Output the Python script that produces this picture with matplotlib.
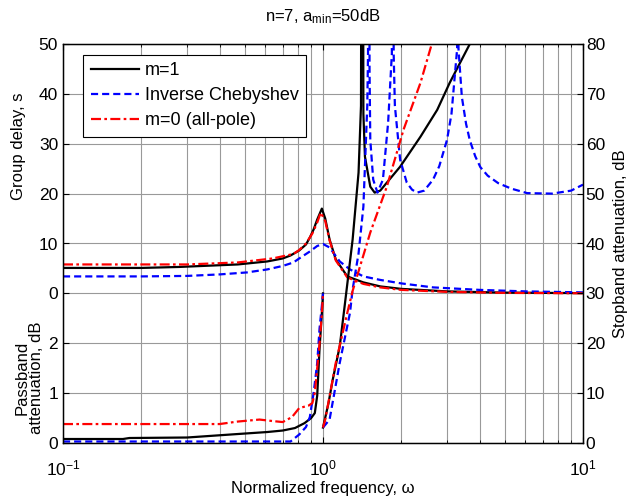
import numpy as np
import matplotlib
matplotlib.use("Agg")
import matplotlib.pyplot as plt

plt.rcParams['font.family'] = ['Liberation Sans', 'DejaVu Sans']
plt.rcParams['mathtext.fontset'] = 'custom'
plt.rcParams['mathtext.rm'] = 'Liberation Sans'
plt.rcParams['mathtext.default'] = 'regular'

### Donnees lues sur la figure
# temps de propagation de groupe (s)
w_gd_m1 = [0.1, 0.2, 0.28, 0.47, 0.61, 0.7, 0.75, 0.81, 0.86, 0.89, 0.92, 0.95, 0.99, 1.02, 1.06, 1.12, 1.24, 1.43, 1.66, 2.0, 3.0, 5.0, 10.0]
gd_m1 = [5.1, 5.1, 5.3, 5.8, 6.4, 7.0, 7.6, 8.6, 9.8, 11.2, 12.8, 14.8, 17.0, 15.0, 10.8, 6.8, 3.4, 2.2, 1.4, 0.9, 0.4, 0.15, 0.05]
w_gd_ic = [0.1, 0.2, 0.3, 0.4, 0.51, 0.61, 0.7, 0.77, 0.81, 0.89, 0.95, 1.0, 1.06, 1.16, 1.27, 1.43, 1.66, 2.0, 2.65, 4.0, 6.0, 10.0]
gd_ic = [3.4, 3.4, 3.5, 3.8, 4.2, 4.8, 5.5, 6.2, 7.0, 8.4, 9.5, 9.9, 9.2, 6.4, 4.8, 3.4, 2.7, 2.0, 1.2, 0.7, 0.4, 0.2]
w_gd_m0 = [0.1, 0.2, 0.3, 0.47, 0.64, 0.77, 0.81, 0.86, 0.91, 0.95, 0.98, 1.02, 1.06, 1.12, 1.24, 1.43, 1.66, 2.0, 3.0, 5.0, 10.0]
gd_m0 = [5.8, 5.8, 5.8, 6.2, 7.0, 7.9, 8.7, 10.0, 12.0, 14.2, 16.2, 14.5, 10.6, 6.6, 3.2, 1.9, 1.2, 0.7, 0.3, 0.1, 0.02]

# attenuation en bande passante (dB)
w_ap_m1 = [0.1, 0.17, 0.18, 0.3, 0.47, 0.61, 0.7, 0.78, 0.85, 0.9, 0.93, 0.95, 0.97, 0.99, 1.0]
ap_m1 = [0.08, 0.08, 0.1, 0.11, 0.18, 0.22, 0.25, 0.3, 0.4, 0.5, 0.6, 0.95, 1.9, 2.6, 3.0]
w_ap_ic = [0.1, 0.5, 0.75, 0.81, 0.86, 0.89, 0.92, 0.95, 0.97, 0.99, 1.0]
ap_ic = [0.03, 0.03, 0.03, 0.17, 0.32, 0.52, 1.0, 1.6, 2.3, 2.75, 3.0]
w_ap_m0 = [0.1, 0.4, 0.47, 0.57, 0.64, 0.7, 0.76, 0.81, 0.88, 0.91, 0.93, 0.95, 0.97, 0.99, 1.0]
ap_m0 = [0.38, 0.38, 0.43, 0.47, 0.44, 0.42, 0.52, 0.7, 0.75, 0.8, 1.0, 1.5, 2.0, 2.6, 3.0]

# attenuation en bande coupee (dB)
w_as_m1 = [1.0, 1.05, 1.09, 1.16, 1.22, 1.3, 1.37, 1.4, 1.415, 1.43, 1.45, 1.52, 1.58, 1.66, 1.76, 1.98, 2.37, 2.75, 3.07, 3.67, 4.0]
as_m1 = [3.1, 8.0, 12.7, 19.4, 28.8, 40.8, 54.2, 67.6, 200.0, 66.0, 57.4, 51.4, 50.2, 50.6, 52.2, 55.4, 61.4, 66.8, 72.2, 80.0, 83.0]
w_as_ic = [1.0, 1.06, 1.16, 1.27, 1.3, 1.37, 1.43, 1.48, 1.49, 1.5, 1.51, 1.52, 1.56, 1.62, 1.7, 1.78, 1.84, 1.855, 1.87,
           1.89, 1.98, 2.1, 2.2, 2.3, 2.45, 2.65, 2.8, 3.0, 3.12, 3.28, 3.3, 3.32, 3.42, 3.55, 3.67, 3.85, 4.03, 4.3, 4.72,
           5.3, 6.1, 7.6, 9.0, 10.0]
as_ic = [3.1, 4.7, 16.1, 26.1, 30.8, 38.0, 47.4, 67.6, 78.0, 200.0, 75.0, 60.8, 52.8, 50.2, 52.8, 64.2, 78.0, 200.0, 78.0,
         67.6, 56.8, 52.2, 50.8, 50.2, 50.6, 52.8, 55.5, 60.8, 66.0, 79.0, 200.0, 79.0, 69.4, 64.0, 60.7, 57.5, 55.3, 53.6, 52.1,
         51.0, 50.1, 50.0, 50.6, 51.8]
w_as_m0 = [1.0, 1.02, 1.12, 1.24, 1.3, 1.52, 1.76, 2.04, 2.37, 2.62, 2.8]
as_m0 = [3.1, 4.7, 16.1, 26.1, 30.5, 42.2, 51.4, 62.8, 72.2, 80.0, 84.0]

LABELS = ['m=1', 'Inverse Chebyshev', 'm=0 (all-pole)']

### Echelle commune : 0-3 dB -> 0-30, retard 0-50 s -> 30-80, attenuation 0-80 dB -> 0-80
def gd(v):
    return 30 + np.array(v)

def ap(v):
    return 10 * np.array(v)

fig = plt.figure(figsize=(6.32, 5.04), dpi=100)
ax = fig.add_axes([63/632, 61/504, 520/632, 399/504])

st_m1 = dict(color='k', lw=1.6, ls='-')
st_ic = dict(color='#0000ff', lw=1.6, ls=(0, (3.2, 1.8)))
st_m0 = dict(color='#ff0000', lw=1.6, ls=(0, (4.5, 1.5, 1.2, 1.5)))

ax.semilogx(w_gd_m1, gd(gd_m1), label=LABELS[0], **st_m1)
ax.semilogx(w_gd_ic, gd(gd_ic), label=LABELS[1], **st_ic)
ax.semilogx(w_gd_m0, gd(gd_m0), label=LABELS[2], **st_m0)
ax.semilogx(w_ap_m1, ap(ap_m1), **st_m1)
ax.semilogx(w_ap_ic, ap(ap_ic), **st_ic)
ax.semilogx(w_ap_m0, ap(ap_m0), **st_m0)
ax.semilogx(w_as_m1, as_m1, **st_m1)
ax.semilogx(w_as_ic, as_ic, **st_ic)
ax.semilogx(w_as_m0, as_m0, **st_m0)

ax.set_xlim(0.1, 10)
ax.set_ylim(0, 80)
ax.set_yticks(range(0, 81, 10))
ax.set_yticklabels(['0', '1', '2', '0', '10', '20', '30', '40', '50'])
ax.grid(True, which='both', axis='x', color='0.6', lw=0.8)
ax.grid(True, which='major', axis='y', color='0.6', lw=0.8)
ax.tick_params(which='both', direction='in', top=True, right=False, labelsize=12.5)
ax.tick_params(which='major', length=4)
ax.tick_params(which='minor', length=2.5)
ax.tick_params(axis='x', which='major', pad=11)
for s in ax.spines.values():
    s.set_linewidth(1.0)

ax2 = ax.twinx()
ax2.set_ylim(0, 80)
ax2.set_yticks(range(0, 81, 10))
ax2.tick_params(direction='in', length=4, labelsize=12.5, pad=2)
ax2.set_ylabel('Stopband attenuation, dB', fontsize=12, labelpad=6)

ax.set_title('n=7, a$_{min}$=50dB', fontsize=12, pad=16)
ax.set_xlabel('Normalized frequency, ω', fontsize=12, labelpad=2)
fig.text(0.03, 0.71, 'Group delay, s', rotation=90, ha='center', va='center', fontsize=12)
fig.text(0.046, 0.25, 'Passband\nattenuation, dB', rotation=90, ha='center', va='center',
         fontsize=12, linespacing=0.95)

leg = ax.legend(loc='upper left', bbox_to_anchor=(0.022, 0.995), fontsize=13, handlelength=2.7,
                handletextpad=0.3, fancybox=False, framealpha=1, edgecolor='k', borderpad=0.4,
                labelspacing=0.45)
leg.get_frame().set_linewidth(0.8)

plt.savefig('out.png', dpi=100)
